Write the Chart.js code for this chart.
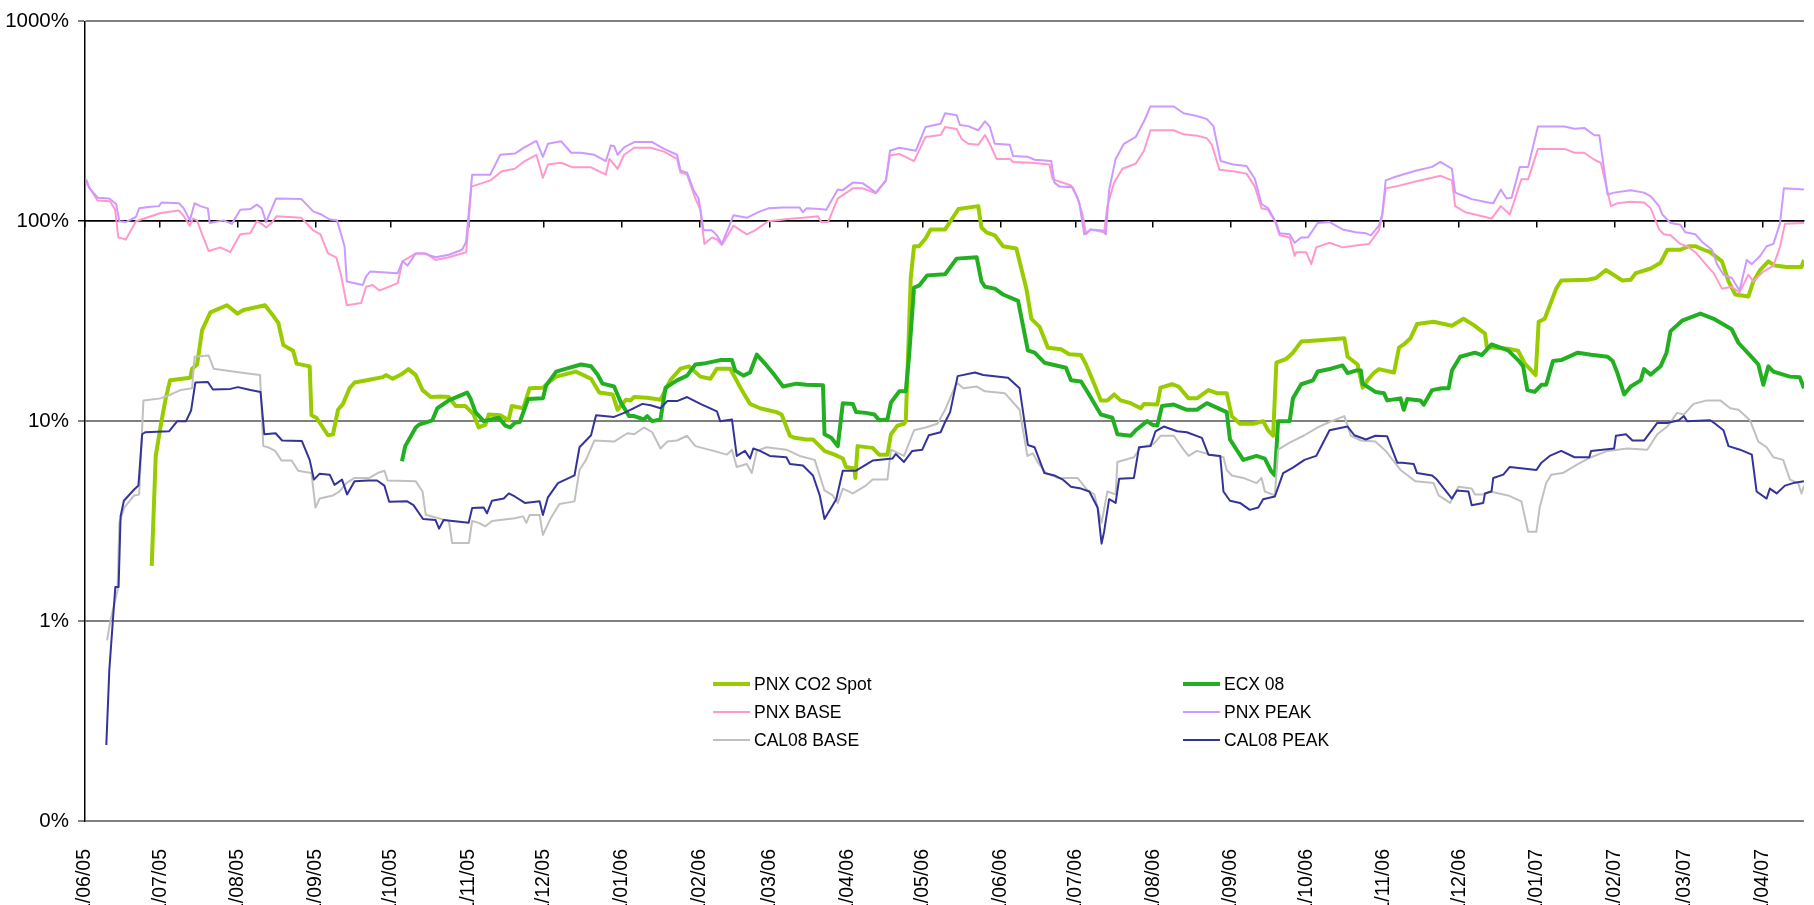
<!DOCTYPE html>
<html>
<head>
<meta charset="utf-8">
<script src="https://cdn.jsdelivr.net/npm/chart.js@4/dist/chart.umd.min.js"></script>
<style>
html,body{margin:0;padding:0;background:#fff;overflow:hidden}
#wrap{position:relative;width:1814px;height:905px}
canvas{display:block}
</style>
</head>
<body>
<div id="wrap"><canvas id="c" width="1814" height="905"></canvas></div>
<script>
// x values are days counted from 1 June 2005
const monthTicks = [0,30,61,92,122,153,183,214,245,273,304,334,365,395,426,457,487,518,548,579,610,638,669];
const monthLabels = ['1/06/05','1/07/05','1/08/05','1/09/05','1/10/05','1/11/05','1/12/05','1/01/06','1/02/06','1/03/06','1/04/06','1/05/06','1/06/06','1/07/06','1/08/06','1/09/06','1/10/06','1/11/06','1/12/06','1/01/07','1/02/07','1/03/07','1/04/07'];
const yTickValues = [0.1,1,10,100,1000];
const yTickLabels = ['0%','1%','10%','100%','1000%'];

const spotDays = [26.6,28.2,30.5,32.2,33.9,42,42.7,44.7,46.7,50,56.6,60.8,63.2,71.8,74.4,77.1,79.1,83,84.4,89.6,90.3,92.3,96.9,98.9,100.9,102.9,105.5,107.5,113.4,118.7,120,122.7,126,129,131.9,134.6,137.9,141.8,145.1,147.8,151.7,155,157,159.7,161,165.6,168.9,170.2,
174.7,177.3,182.6,185.3,187.9,195.8,201.8,205.1,210.4,212.4,215.7,217.6,219,224.2,229.5,233.5,237.5,240.8,245.4,249.4,252,257.3,261.9,265.2,269.2,275.8,277.8,281.1,283,287.7,290.3,294.9,298.9,302.2,303.5,306.8,307.2,308.1,314.1,316.7,320,321.4,324,326.6,327.3,329.3,330.6,332.6,335.2,337.2,343,
348.3,356.2,357.5,359.5,362.8,366.1,371.4,375.4,377.4,380.7,384,389.2,392.5,397.2,399.2,402.5,405.1,407.7,410.4,413,417,421,422.3,427.6,428.9,433.5,436.1,440.1,443.4,448,451.3,455.3,457.3,460.6,465.9,469.8,471.8,473.8,475.1,479.1,481.7,485,492.3,502.2,503.5,507.5,509.5,511.4,514.1,
516,522,524,525.9,528.6,531.2,537.8,545.1,549.7,553.7,558.3,559,562.3,567.5,571.5,574.2,576.1,578.5,579.7,582.1,586.7,588.7,599.3,602.6,606.5,613.1,616.4,618.4,624.4,628.3,631,636.2,639.6,642.2,645.5,648.1,652.8,655.4,658.1,663.3,665.3,668,671.3,673.9,678.5,684.5,685.5];
const spotVals = [1.89,6.7,10,13,16,16.5,18.3,19.2,28.5,35,38,34.5,36,38,34.5,31,24,22.5,19.4,18.8,10.7,10.4,8.5,8.6,11.4,12.2,14.6,15.6,16.1,16.6,17,16.3,17.1,18.2,17,14.3,13.2,13.3,13.2,11.9,11.9,10.8,9.3,9.6,10.8,10.7,10.1,11.9,
11.6,14.6,14.7,15.8,16.7,17.7,16.3,13.9,13.6,11.4,12.8,12.7,13.2,13.1,12.8,16.1,18.3,18.8,16.7,16.3,18.3,18.3,14.3,12.2,11.6,11.1,10.8,8.45,8.25,8.1,8.1,7.1,6.8,6.5,5.9,5.8,5.2,7.5,7.35,6.8,6.8,8.6,9.5,9.7,10,52,75,75,82,91,91,
115,119,93,88,85,75,73,46,32.5,29.6,23.3,22.9,21.6,21.4,19.2,15.3,12.7,12.7,13.6,12.7,12.3,11.6,12.2,12.1,14.7,15.3,14.9,13,13,14.3,13.8,13.8,10.6,9.7,9.7,10,9,8.45,19.6,20.5,22,25,25.4,26,21,19.2,14.7,16,17.5,
18.2,17.5,23.3,24.2,26,30.6,31.4,30,32.5,30.3,27.4,23.6,23.3,23,22.5,19.4,18.3,17,31.4,32.5,46,50.5,51,52,57,50.5,51,55,58,62,72,72,75,75,72,70,63,50,43,42,50,57,63,60,59,59,64];

const ecxDays = [126.4,127.7,131.9,133.2,138.5,140.5,145.1,152.4,153.7,155.7,159,165,167.6,169.6,
171.4,173.4,176.7,182.6,183.9,187.9,191.9,197.8,201.8,204.4,206.4,211,213.7,217,219,222.9,224.2,226.2,229.5,231.5,236.1,240.1,243.4,246.7,253.3,258,259.3,262.6,265.2,267.9,271.8,275.1,278.4,283.7,287.7,294.3,294.9,297.6,300.2,302.2,306.2,307.5,311.4,314.8,316.7,320,321.4,324.7,327.3,328.6,330.6,332.6,335.9,343,
347.6,355.6,357.5,358.9,362.8,366.1,372.1,373.4,376,378.7,382.6,391.2,393.2,397.2,399.8,405.1,409.7,411.7,417,419,423.6,425.6,427.6,429.5,434.2,439.4,443.4,447.4,450,455.3,456.6,458.6,461.9,467.2,470.5,473.1,474.5,475.8,480.4,481.7,485,489.7,491.6,496.9,501.5,503.5,506.8,508.8,509.5,514.6,
518,519.3,524.6,525.9,527.3,532.5,533.9,537.2,541.1,543.8,545.1,548.4,554.3,557,560.9,567.5,571.5,573.5,575.2,578.1,580.8,582.7,585.4,588.7,595.3,600.6,607.2,609.2,611.1,613.8,616.4,620.4,621.7,624.4,628.3,630.7,632.3,636.9,644.2,649.5,656.7,659.4,665.3,667.3,669.3,671.3,673.3,679.9,683.8,685.5];
const ecxVals = [6.3,7.5,9.3,9.6,10.1,11.6,12.7,13.9,13,11.1,10,10.4,9.5,9.3,
9.8,9.9,12.9,13,15.1,17.7,18.3,19.2,18.8,17.1,15.4,14.9,12.4,10.6,10.6,10.2,10.6,10,10.2,14.7,16,16.9,19.2,19.4,20.2,20.2,17.9,16.9,17.5,21.5,19,16.9,14.9,15.4,15.2,15.1,8.6,8.25,7.5,12.3,12.2,11.1,11,10.8,10.1,10.2,12.4,14.1,14.1,21,46.6,47.6,53.6,54.3,
65,66,50,47,46,43,40,33,22.6,22,19.6,18.5,16,15.8,14,10.8,10.4,8.6,8.45,9,10,9.6,9.5,11.9,12.1,11.4,11.4,12.3,11.9,11.1,8.1,7.4,6.4,6.7,6.5,5.6,5.35,10,10,13,15.3,16,17.7,18.3,19,17.4,17.9,17.9,15.4,14,
13.8,12.7,13,11.4,12.9,12.7,12.1,14.3,14.6,14.6,17.9,21,22,21.4,24.2,22.6,20.2,18.8,14.3,14,15.2,15.2,20,20.2,22,21.5,21,20,17.4,13.6,14.9,16,18.2,17.1,18.8,22,28.2,31.8,34.5,32.5,28.8,24.6,20.5,19.2,15.2,18.8,17.7,16.7,16.6,14.6];

const baseDays = [0.5,5,10,12,13.3,16.3,18.3,20.3,30.2,37.5,39.4,41.8,43.1,44.7,46.7,49.3,54,57.9,61.9,65.9,68.5,70.5,72.2,74.4,76.4,86.3,91,93.9,96.9,100.2,102.2,104.4,110.1,112.1,114.7,117.4,124.7,126.6,131.9,135.9,139.8,145.1,152,154.1,161.6,166.3,171.4,
175.4,180,182.6,184.6,189.9,194.5,201.8,207.7,209.1,212.4,215,219,225.6,230.9,236.1,237.5,240.1,243.4,245.4,247,250,252,254,258.6,263.9,267.2,272.5,281.1,286.3,292.3,293.6,296.3,300.2,306.2,310.1,315.4,319.4,321,324.7,330.6,335.2,341.2,343,
347.6,349.6,352.2,356.2,358.9,360.8,363.5,368.8,370.1,377.4,384.6,385.9,388.6,393.2,395.8,397.8,399.2,401.1,406.4,407.7,410.4,413.7,419,422.3,424.9,434.2,438.1,443.4,447.4,449.4,452.4,457.9,463.2,466.5,469.2,471.8,474.5,476.4,480.4,482.4,483,487,489,491,496.3,501.5,508.2,512.1,516,
517.3,518.7,522.6,530.6,537.2,540.5,545.1,546.4,550.4,554.3,559.6,560.9,564.6,568.2,572.8,575.5,579.4,590,594,597.9,601.9,604.5,608.5,611.1,616.4,621.7,624.4,627.7,629.6,632.3,636.2,638.9,642.2,646.8,649.5,652.8,656.7,659.8,663.3,665.3,669.3,673.3,675.9,677.9,685.5];
const baseVals = [156,127,126,114,83,81,90,100,110,113,106,95,103,101,86,71,74,70,86,87,100,97,93,98,106,104,90,86,69,66,53,38,39,47,48,45,49,63,69,69,64,66,70,149,160,178,183,
200,215,165,192,196,186,186,171,205,183,215,233,233,223,205,175,171,130,114,77,83,81,76,95,86,90,100,103,104,106,99,99,130,146,146,138,160,213,217,200,264,270,296,
289,258,244,241,270,244,205,205,198,196,192,162,158,151,131,108,86,91,88,119,156,183,194,225,285,285,272,268,260,241,181,178,173,149,116,114,100,85,83,67,70,70,61,74,78,74,76,77,90,
106,146,149,158,165,169,160,119,111,108,104,103,119,108,162,162,230,230,220,220,203,196,119,123,125,124,116,91,86,85,77,75,70,60,55,46,47,44,54,50,56,60,74,97,98];

const peakDays = [0.5,1.8,5.1,9.7,12.4,13.7,16.3,20.3,21.6,26.2,29.5,30.5,37.5,39.4,41.8,43.7,46,49,49.7,55.3,58.6,61.9,65.9,68.5,70.5,72.2,76.2,86.3,91,94.3,97.6,100.5,103.5,104.4,110.8,112.1,113.7,124.7,126.6,128.6,131.9,135.2,139.8,145.1,150.4,152,154.4,161.6,165.6,171.4,
175.4,180,182.6,184.6,189.9,193.9,197.8,203.1,207.7,209.7,211,212.4,215,219,226.2,230.9,236.1,237.5,240.1,242.7,244.7,246.7,250,252,254,258.6,263.9,268.5,272.5,278.4,285,286.3,287.7,293,295.6,300.2,302.2,306.2,310.1,315.4,319.4,321,324.7,331.3,335.2,341.2,343,
347.6,348.9,352.2,356.2,358.9,360.8,362.8,368.8,370.1,376,378.7,385.3,386.6,388.6,393.9,396.5,398.5,401.1,405.8,407.1,408.4,411,414.3,419,422.3,424.9,434.2,438.1,443.4,447.4,450,452.9,457.9,463.2,466.5,469.2,471.8,475.1,476.4,480.4,482.4,485,487.7,491.6,496.3,501.5,506.8,510.8,512.8,
516,517.3,518.7,522.6,530.6,537.2,540.5,545.1,546.4,550.4,553,559.6,561.6,564.6,566.9,568.9,572.2,575.5,579.4,590,594,597.9,601.9,603.9,607.2,609.8,616.4,621.7,624.4,627.7,629,632.3,636.2,638.2,642.2,644.8,648.8,650.8,653.4,656.7,659.8,662.7,664.7,668,670.6,673.3,675.9,677.5,685.5];
const peakVals = [162,146,131,130,122,100,99,105,116,118,119,124,123,116,101,123,119,116,98,101,97,114,115,121,116,99,130,129,112,108,102,101,75,50,48,53,56,55,63,60,69,69,66,68,72,79,171,171,215,218,
235,252,210,244,251,220,220,215,200,239,238,215,234,249,249,230,215,179,175,143,130,90,90,85,77,107,104,111,116,117,117,111,116,115,114,144,143,156,155,139,160,225,233,225,296,307,347,
339,303,299,285,316,297,244,241,212,210,203,200,156,149,148,124,86,91,90,86,143,205,244,264,316,375,375,347,336,324,299,200,192,189,163,122,116,98,87,86,78,83,83,98,99,91,88,87,85,
95,108,160,167,179,187,198,183,139,133,129,124,123,144,130,131,187,187,298,298,290,293,269,269,136,139,143,139,133,119,108,98,96,88,86,79,72,61,54,52,45,64,61,67,75,77,97,146,144];

const cal08BaseDays = [8.8,10.1,13,13.7,15.7,19.6,21.6,23.3,30.2,34.2,38.1,42.7,43.7,49.3,51.3,61.9,69.8,71.1,73.1,75.8,78.4,82.4,85,90.3,91.9,93.6,98.9,101.5,104.2,107.5,113.4,116.7,119.4,120.7,131.9,134.6,135.9,139.8,145.1,146.4,153.1,154.4,157,159.7,162.3,171.4,
174.7,176,177.3,181.3,182.6,185.9,189.2,195.2,197.2,199.8,203.1,211,216.3,219,222.9,226.2,229.5,232.2,236.1,240.1,243.4,250.7,256,258,259.9,263.9,265.9,267.9,271.8,279.7,285,291,294.9,298.2,300.2,302.2,306.2,311.4,314.1,320,321.4,326.6,330.6,335.2,339.9,343,
347.6,350.3,355.6,358.9,366.8,372.7,375.8,378,380,383.3,387.9,395.8,399.8,402.5,405.4,407.7,411,411.7,418.3,421,426.2,428.9,434.2,438.1,440.1,443.4,448.7,454,455.3,457.3,461.9,467.2,469.2,470.5,474.5,475.8,480.4,486.3,491.6,496.3,502.2,504.8,508.8,514.6,
518.7,524.6,530.6,537.8,539.8,544.4,547.7,553,554.3,557.6,560.3,567.5,572.8,575.5,578.8,580.1,582.7,584.7,589.3,595.3,600.6,607.2,615.1,623,627,631,634.9,637.6,641.5,646.8,652.1,656.1,659.4,664,667.3,670.6,673.3,677.2,679.9,683.2,684.5,685.5];
const cal08BaseVals = [0.8,1.0,1.43,3.1,3.7,4.25,4.3,12.7,13,13.6,14.3,14.6,21,21.3,18.3,17.5,17,7.5,7.4,7.1,6.35,6.35,5.65,5.5,3.7,4.1,4.25,4.45,4.9,5.2,5.2,5.5,5.65,5.05,5.0,4.45,3.4,3.3,3.17,2.46,2.46,3.17,3.1,2.98,3.17,3.27,
3.34,3.1,3.39,3.39,2.7,3.3,3.85,3.97,5.7,6.4,8.0,7.9,8.7,8.6,9.3,8.8,7.3,7.9,8.0,8.45,7.5,7.1,6.8,7.2,5.9,6.1,5.5,7.1,7.4,7.2,6.7,6.4,4.5,4.25,3.9,4.6,4.35,4.76,5.1,5.1,7.2,6.7,9.0,9.3,9.7,11.4,
15.6,14.6,14.9,14.1,13.8,11.4,6.7,6.9,6.2,5.5,5.2,5.2,4.5,4.3,3.1,4.45,4.3,6.25,6.6,7.4,7.7,8.45,8.45,7.2,6.7,7.1,6.8,6.6,5.7,5.35,5.2,4.9,5.2,4.45,4.25,7.2,7.8,8.5,9.3,9.9,10.6,8.45,8.0,7.9,
7.1,5.7,5.0,4.9,4.25,3.9,4.7,4.6,4.3,4.3,4.45,4.25,3.97,2.8,2.8,3.7,4.9,5.4,5.5,6.1,6.6,7.1,7.3,7.2,8.6,9.4,11,10.8,12.2,12.7,12.7,11.6,11.4,10.1,7.9,7.4,6.6,6.4,5.1,4.9,4.35,4.76];

const cal08PeakDays = [8.5,9.7,11.1,12.1,13.4,14.2,15.5,19.6,21.3,22.8,24,33.5,36.8,40.3,42.3,44,49,51,58,61,66,70,71.5,76,78.6,86.5,89.6,91.3,93.5,97.6,99.5,102.5,104.5,107.5,113,116.5,119.4,121.3,128.5,131,134.8,139.8,141.2,143,153,154.4,159,160.3,162.3,167,169,171.4,
175.4,181.3,182.6,184.6,188.6,195.2,197.2,201.8,203.8,211,215.7,222.3,225.6,229.5,232.2,236.1,240.1,245.4,252,253.3,258,259.9,263.2,265.2,266.5,269.2,273.1,279.7,281.1,286.3,290.3,293,294.9,299.6,302.2,307.5,314.1,322,323.3,326.6,329.9,333.9,336.5,341.2,343,
345,348,354.9,358.2,368.1,372.7,376,378.7,382.6,386.6,389.9,393.2,397.2,400.5,403.8,405.4,406.4,408.4,411,412.4,418.3,420.3,424.9,426.9,430.2,435.5,439.4,445.4,448,452.7,454,456.6,460.6,464.5,467.9,469.8,474.5,477.8,481.7,486.3,491,496.3,501.5,503.5,506.2,510.8,514.6,
519.3,523.3,525.3,529.9,531.2,537.2,539.1,545.1,547.1,551.7,553,557.6,558.3,560.9,561.6,565.6,568.2,578.8,580.8,584.1,588.7,594,599.9,600.6,609.8,610.5,614.5,617.1,621.7,627,631,635.6,637.6,638.9,648.1,650.1,653.4,655.4,660,664.7,666.6,670.6,671.9,674.6,677.9,681.2,685.5];
const cal08PeakVals = [0.24,0.57,1.0,1.48,1.48,3.35,4.0,4.55,4.76,8.6,8.8,8.9,10,10,11.3,15.6,15.7,14.4,14.5,14.8,14.3,14,8.6,8.7,8,7.95,6.4,5.1,5.45,5.4,4.8,5.1,4.3,5,5.05,5.05,4.76,3.95,3.97,3.8,3.24,3.2,2.9,3.2,3.1,3.68,3.7,3.46,4.0,4.1,4.35,4.2,
3.9,3.97,3.39,4.16,4.9,5.35,7.4,8.5,10.7,10.5,11.1,12.2,12,11.6,12.6,12.6,13.2,12.2,11.2,10,10.2,6.7,7.1,6.5,7.3,7.1,6.7,6.6,6.1,6.0,5.35,4.25,3.24,4.07,5.65,5.65,6.35,6.5,6.85,6.25,7.1,7.2,8.5,8.8,9.9,
11.1,16.8,17.5,17,16.5,14.6,7.6,7.4,5.5,5.35,5.1,4.7,4.6,4.45,3.7,2.44,2.8,4.07,3.9,5.15,5.2,7.4,7.5,8.9,9.4,8.9,8.8,8.25,6.8,6.7,4.45,4.0,3.9,3.6,3.7,4.07,4.2,5.5,5.85,6.4,6.7,9,9.3,9.4,8.5,8.1,8.45,
8.4,6.2,6.2,6.1,5.5,5.35,5.1,4.1,4.5,4.45,3.8,3.9,4.35,4.45,5.2,5.4,5.9,5.7,6.2,6.7,7.1,6.6,6.6,7.1,7.3,8.45,8.6,8.0,8.0,9.8,9.8,10.1,10.6,10,10.1,9.7,9.0,7.5,7.2,6.8,4.45,4.1,4.6,4.35,4.76,4.9,5.0];

const X_MAX = 685.5;
const FONT = "'Liberation Sans', Arial, sans-serif";

function pts(days, vals) { return days.map((d, i) => ({ x: d, y: vals[i] })); }

const legendPlugin = {
  id: 'excelLegend',
  afterDraw(chart) {
    const ctx = chart.ctx;
    ctx.save();
    ctx.font = '17.5px ' + FONT;
    ctx.textBaseline = 'middle';
    ctx.textAlign = 'left';
    ctx.fillStyle = '#000';
    chart.data.datasets.forEach((ds, i) => {
      const col = i % 2, row = Math.floor(i / 2);
      const x0 = col ? 1183 : 713;
      const y = 684 + row * 28;
      ctx.strokeStyle = ds.borderColor;
      ctx.lineWidth = ds.borderWidth;
      ctx.beginPath(); ctx.moveTo(x0, y); ctx.lineTo(x0 + 37, y); ctx.stroke();
      ctx.fillText(ds.label, x0 + 41, y + 1);
    });
    ctx.restore();
  }
};

function ds(label, days, vals, color, width, order) {
  return { label, data: pts(days, vals), borderColor: color, backgroundColor: color, borderWidth: width,
           pointRadius: 0, tension: 0, fill: false, order, borderJoinStyle: 'round' };
}

Chart.defaults.font.family = FONT;

new Chart(document.getElementById('c'), {
  type: 'line',
  data: {
    datasets: [
      ds('PNX CO2 Spot', spotDays, spotVals, '#99CC00', 4, 6),
      ds('ECX 08', ecxDays, ecxVals, '#22B022', 4, 5),
      ds('PNX BASE', baseDays, baseVals, '#FF99CC', 2, 4),
      ds('PNX PEAK', peakDays, peakVals, '#CC99FF', 2, 3),
      ds('CAL08 BASE', cal08BaseDays, cal08BaseVals, '#C0C0C0', 2, 2),
      ds('CAL08 PEAK', cal08PeakDays, cal08PeakVals, '#333399', 2, 1)
    ]
  },
  options: {
    responsive: false,
    animation: false,
    devicePixelRatio: 1,
    layout: { padding: { top: 21, left: 0, right: 0, bottom: 0 } },
    plugins: { legend: { display: false }, tooltip: { enabled: false } },
    scales: {
      x: {
        type: 'linear', position: 'bottom', min: 0, max: X_MAX,
        afterBuildTicks: s => { s.ticks = monthTicks.map(v => ({ value: v })); },
        afterFit: s => { s.height = 84; },
        grid: { display: false, drawTicks: false },
        border: { display: false },
        ticks: {
          autoSkip: false, minRotation: 90, maxRotation: 90, padding: 28,
          color: '#000', font: { size: 19.5, family: FONT },
          callback: v => { const i = monthTicks.indexOf(v); return i >= 0 ? monthLabels[i] : ''; }
        }
      },
      x2: {
        axis: 'x', type: 'linear', position: { y: 100 }, min: 0, max: X_MAX,
        afterBuildTicks: s => { s.ticks = monthTicks.map(v => ({ value: v })); },
        grid: { display: true, drawOnChartArea: false, drawTicks: true, tickLength: 6, color: '#000', lineWidth: 1.5 },
        border: { display: true, color: '#000', width: 1.5 },
        ticks: { display: false }
      },
      y: {
        type: 'logarithmic', position: 'left', min: 0.1, max: 1000,
        afterBuildTicks: s => { s.ticks = yTickValues.map(v => ({ value: v })); },
        afterFit: s => { s.width = 85; },
        grid: {
          color: c => (c.tick && c.tick.value === 100) ? '#000000' : '#808080',
          lineWidth: c => (c.tick && c.tick.value === 100) ? 1.5 : 2,
          tickLength: 7, drawTicks: true
        },
        border: { display: true, color: '#000', width: 1.5 },
        ticks: {
          padding: 9, color: '#000', font: { size: 20.5, family: FONT },
          callback: v => { const i = yTickValues.indexOf(v); return i >= 0 ? yTickLabels[i] : ''; }
        }
      }
    }
  },
  plugins: [legendPlugin]
});
</script>
</body>
</html>
